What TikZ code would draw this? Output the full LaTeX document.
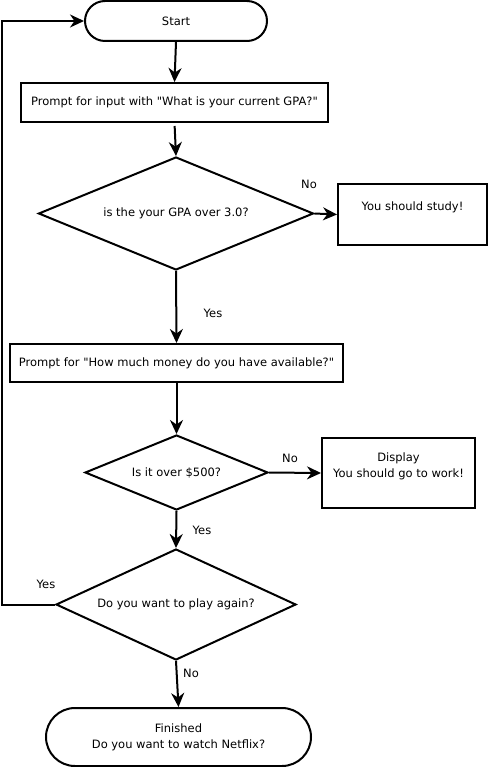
\documentclass[tikz,border=0pt]{standalone}
\usepackage{fontspec}
\setmainfont{DejaVu Sans}[Ligatures=TeXOff]
\usetikzlibrary{shapes.geometric,shapes.misc,arrows.meta}
\begin{document}
\begin{tikzpicture}[x=1pt,y=-1pt,
  every node/.style={font=\fontsize{11.5}{16}\selectfont, inner sep=0pt},
  stadium/.style={draw, line width=2pt, rounded rectangle, align=center},
  procbox/.style={draw, line width=2pt, rectangle, align=center},
  decision/.style={draw, line width=2pt, diamond, align=center},
  flow/.style={line width=2pt, -{Stealth[length=14pt,width=13pt,inset=4.5pt]}},
  lbl/.style={font=\fontsize{11.5}{13}\selectfont}
]
\useasboundingbox (0,0) rectangle (488,767);
\node[stadium, minimum width=182pt, minimum height=40pt] (start) at (176,21) {Start};
\node[procbox, minimum width=307pt, minimum height=39pt] (p1) at (174.5,102.5) {Prompt for input with "What is your current GPA?"};
\node[decision, shape aspect=2.434, minimum width=275pt, minimum height=113pt] (d1) at (176,213.5) {is the your GPA over 3.0?};
\node[procbox, minimum width=149pt, minimum height=61pt] (study) at (412.5,214.5) {You should study!\\\mbox{}};
\node[procbox, minimum width=333pt, minimum height=38pt] (p2) at (176.5,363) {Prompt for "How much money do you have available?"};
\node[decision, shape aspect=2.44, minimum width=183pt, minimum height=75pt] (d2) at (176.5,472.5) {Is it over \$500?};
\node[procbox, minimum width=153pt, minimum height=70pt] (work) at (398.5,473) {Display\\You should go to work!\\\mbox{}};
\node[decision, shape aspect=2.162, minimum width=240pt, minimum height=111pt] (d3) at (176,604.5) {Do you want to play again?};
\node[stadium, minimum width=265pt, minimum height=58pt] (fin) at (178.5,737) {Finished\\Do you want to watch Netflix?};
\coordinate (loop) at (1.5,21);

\draw[flow] (start.south) -- (p1.north);
\draw[flow, shorten <=3pt] (p1.south) -- (d1.north);
\draw[flow] (d1.east) -- (study.west);
\draw[flow] (d1.south) -- (p2.north);
\draw[flow] (p2.south) -- (d2.north);
\draw[flow] (d2.east) -- (work.west);
\draw[flow] (d2.south) -- (d3.north);
\draw[flow] (d3.west) -| (loop) -- (start.west);
\draw[flow] (d3.south) -- (fin.north);

\node[lbl] (no1) at (309,184) {No};
\node[lbl] (yes1) at (213,313) {Yes};
\node[lbl] (no2) at (290,458) {No};
\node[lbl] (yes2) at (202,530) {Yes};
\node[lbl] (yes3) at (46,584) {Yes};
\node[lbl] (no3) at (191,673) {No};
\end{tikzpicture}
\end{document}
